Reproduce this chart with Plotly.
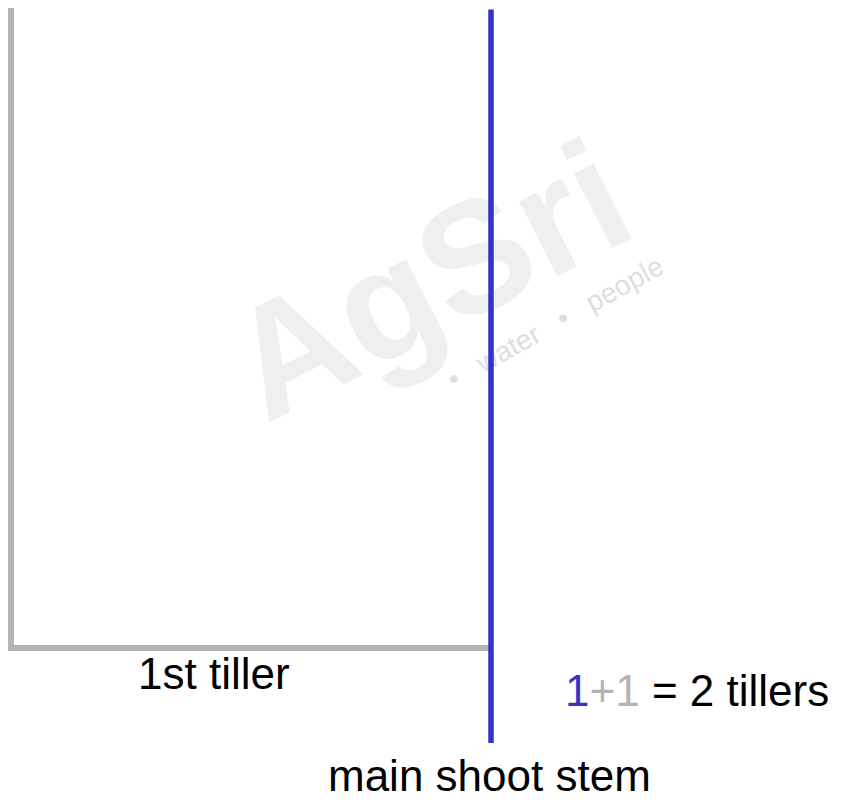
import plotly.graph_objects as go

# Diagram geometry (pixel-like coordinate space, y downwards)
main_stem_x = [491, 491]
main_stem_y = [8, 743]
tiller_x = [11, 11, 491]
tiller_y = [8, 648, 648]

labels = ["1st tiller", "main shoot stem",
          "<span style='color:#3333CC'>1</span><span style='color:#B3B3B3'>+1</span> = 2 tillers"]
label_x = [214, 489, 697]
label_y = [673, 775, 690]

watermark_main = "AgSri"
watermark_sub = "•   water   •   people"

BLUE = "#3333CC"
GREY = "#B3B3B3"
FONT = "Liberation Sans, Arial, sans-serif"

fig = go.Figure()

# faint watermark (annotations are drawn in order, so it sits below the stem drawn after it)
fig.add_annotation(x=428, y=280, text="<b>" + watermark_main + "</b>", showarrow=False,
                   textangle=-27, font=dict(family=FONT, size=158, color="#EFEFEF"))
fig.add_annotation(x=555, y=322, text=watermark_sub, showarrow=False,
                   textangle=-29, font=dict(family=FONT, size=28, color="#DEDEDE"))

# 1st tiller (grey L)
fig.add_trace(go.Scatter(x=tiller_x, y=tiller_y, mode="lines",
                         line=dict(color=GREY, width=6), hoverinfo="skip"))

# main shoot stem (blue), drawn as an axis-referenced annotation line so it stays above the watermark
fig.add_annotation(x=main_stem_x[1], y=main_stem_y[1], ax=main_stem_x[0], ay=main_stem_y[0],
                   xref="x", yref="y", axref="x", ayref="y", text="", showarrow=True,
                   arrowhead=0, arrowwidth=5.5, arrowcolor=BLUE, standoff=0, startstandoff=0)

for t, x, y in zip(labels, label_x, label_y):
    fig.add_annotation(x=x, y=y, text=t, showarrow=False, xanchor="center", yanchor="middle",
                       font=dict(family=FONT, size=44, color="black"))

# page body has an 8px default margin: shift ranges so data coords match page pixels
fig.update_layout(
    width=846, height=800, autosize=False,
    margin=dict(l=0, r=0, t=0, b=0),
    paper_bgcolor="white", plot_bgcolor="white",
    showlegend=False,
    xaxis=dict(range=[8, 854], visible=False, fixedrange=True),
    yaxis=dict(range=[808, 8], visible=False, fixedrange=True),
)

fig.write_html("out.html", config={"displayModeBar": False})
